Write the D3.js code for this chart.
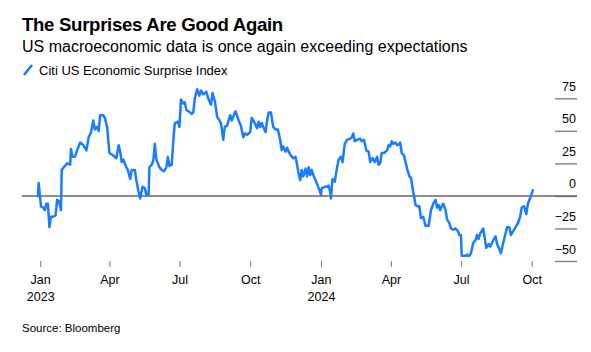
<!DOCTYPE html>
<html><head><meta charset="utf-8">
<script src="https://cdn.jsdelivr.net/npm/d3@7"></script>
<style>
html,body{margin:0;padding:0;background:#fff;}
svg{display:block;font-family:"Liberation Sans",Arial,sans-serif;}
</style></head>
<body><svg id="c" width="591" height="352"></svg>
<script>
const title = "The Surprises Are Good Again";
const subtitle = "US macroeconomic data is once again exceeding expectations";
const seriesName = "Citi US Economic Surprise Index";
const source = "Source: Bloomberg";
const yTicks = [75, 50, 25, 0, -25, -50];
const xTicks = ["2023-01-01","2023-04-01","2023-07-01","2023-10-01","2024-01-01","2024-04-01","2024-07-01","2024-10-01"];
const xTickLabels = ["Jan","Apr","Jul","Oct","Jan","Apr","Jul","Oct"];
const xTickYears = ["2023","","","","2024","","",""];
const dates = [
"2022-12-29","2022-12-30","2023-01-02","2023-01-05","2023-01-07","2023-01-09","2023-01-11","2023-01-13","2023-01-15","2023-01-18",
"2023-01-21","2023-01-23","2023-01-25","2023-01-27","2023-01-28","2023-01-29","2023-02-02","2023-02-05","2023-02-09","2023-02-10",
"2023-02-12","2023-02-15","2023-02-18","2023-02-22","2023-02-26","2023-03-02","2023-03-05","2023-03-08","2023-03-11","2023-03-13",
"2023-03-16","2023-03-18","2023-03-20","2023-03-24","2023-03-26","2023-03-29","2023-04-01","2023-04-06","2023-04-10","2023-04-13",
"2023-04-15","2023-04-17","2023-04-19","2023-04-23","2023-04-25","2023-04-28","2023-04-30","2023-05-04","2023-05-06","2023-05-09",
"2023-05-11","2023-05-14","2023-05-17","2023-05-19","2023-05-22","2023-05-23","2023-05-26","2023-05-28","2023-05-30","2023-06-01",
"2023-06-05","2023-06-08","2023-06-11","2023-06-14","2023-06-16","2023-06-18","2023-06-21","2023-06-23","2023-06-25","2023-06-29",
"2023-07-01","2023-07-03","2023-07-06","2023-07-08","2023-07-10","2023-07-13","2023-07-17","2023-07-19","2023-07-21","2023-07-24",
"2023-07-27","2023-07-29","2023-08-01","2023-08-05","2023-08-08","2023-08-11","2023-08-13","2023-08-16","2023-08-19","2023-08-22",
"2023-08-24","2023-08-27","2023-08-29","2023-09-01","2023-09-05","2023-09-07","2023-09-09","2023-09-12","2023-09-16","2023-09-19",
"2023-09-22","2023-09-24","2023-09-27","2023-10-01","2023-10-03","2023-10-05","2023-10-07","2023-10-10","2023-10-12","2023-10-14",
"2023-10-16","2023-10-18","2023-10-21","2023-10-23","2023-10-25","2023-10-28","2023-10-31","2023-11-03","2023-11-06","2023-11-09",
"2023-11-11","2023-11-13","2023-11-16","2023-11-18","2023-11-20","2023-11-23","2023-11-26","2023-11-29","2023-12-01","2023-12-03",
"2023-12-05","2023-12-07","2023-12-09","2023-12-12","2023-12-14","2023-12-16","2023-12-18","2023-12-20","2023-12-22","2023-12-25",
"2023-12-29","2024-01-01","2024-01-02","2024-01-06","2024-01-09","2024-01-11","2024-01-13","2024-01-14","2024-01-16","2024-01-19",
"2024-01-22","2024-01-24","2024-01-27","2024-01-29","2024-02-01","2024-02-04","2024-02-08","2024-02-10","2024-02-12","2024-02-14",
"2024-02-17","2024-02-21","2024-02-23","2024-02-26","2024-02-29","2024-03-03","2024-03-05","2024-03-08","2024-03-11","2024-03-14",
"2024-03-16","2024-03-18","2024-03-20","2024-03-23","2024-03-27","2024-03-29","2024-03-31","2024-04-02","2024-04-04","2024-04-07",
"2024-04-09","2024-04-12","2024-04-13","2024-04-15","2024-04-18","2024-04-22","2024-04-25","2024-04-27","2024-04-30","2024-05-03",
"2024-05-06","2024-05-08","2024-05-10","2024-05-13","2024-05-16","2024-05-20","2024-05-23","2024-05-26","2024-05-29","2024-05-31",
"2024-06-02","2024-06-04","2024-06-06","2024-06-08","2024-06-11","2024-06-13","2024-06-16","2024-06-18","2024-06-21","2024-06-24",
"2024-06-27","2024-06-29","2024-07-01","2024-07-02","2024-07-07","2024-07-09","2024-07-10","2024-07-12","2024-07-14","2024-07-17",
"2024-07-20","2024-07-22","2024-07-24","2024-07-26","2024-07-30","2024-08-03","2024-08-06","2024-08-08","2024-08-12","2024-08-15",
"2024-08-17","2024-08-20","2024-08-22","2024-08-25","2024-08-28","2024-08-30","2024-09-02","2024-09-04","2024-09-07","2024-09-11",
"2024-09-13","2024-09-16","2024-09-18","2024-09-21","2024-09-24","2024-09-26","2024-09-28","2024-09-30","2024-10-03"
];
const values = [
-1,10,-8,-9,-11,-6,-6,-24,-16,-16,
-15,-3,-4,-8,-11,20,23,25,24,36,
30,30,35,41,39,35,45,49,58,51,
53,50,62,62,60,53,33,31,29,39,
34,26,28,22,20,13,20,20,12,3,
-2,7,6,1,1,22,24,27,40,28,
22,20,19,22,30,23,24,42,56,57,
53,74,71,72,66,65,63,64,75,82,
77,81,78,80,74,70,79,73,61,58,
56,43,53,54,62,58,61,65,58,54,
45,48,47,49,60,58,56,52,57,53,
56,53,49,58,64,64,53,51,51,43,
35,38,34,37,34,31,29,30,24,17,
12,20,15,21,15,22,16,20,16,12,
6,1,6,7,7,8,3,-2,13,11,
22,28,30,26,40,43,44,45,48,42,
43,44,42,43,35,34,26,29,26,30,
24,25,33,33,35,39,38,42,40,41,
39,40,41,33,31,21,15,14,3,-7,
-8,-8,-17,-16,-23,-23,-11,-6,-3,-9,
-7,-11,-8,-6,-11,-18,-21,-25,-26,-25,
-27,-30,-30,-46,-46,-45,-46,-46,-44,-36,
-34,-30,-33,-29,-25,-40,-37,-39,-34,-31,
-37,-41,-44,-36,-29,-24,-24,-30,-27,-23,
-21,-16,-9,-8,-14,-6,-3,0,5
];

const parse = d3.timeParse("%Y-%m-%d");
const data = dates.map((d,i)=>({date:parse(d), value:values[i]}));
const svg = d3.select("#c");

const x = d3.scaleTime().domain([parse("2023-01-01"), parse("2024-10-01")]).range([40.2, 531.7]);
const y = d3.scaleLinear().domain([-50, 75]).range([261, 98.3]);

// Title block
svg.append("text").attr("x",22).attr("y",31).attr("font-size",18.6).attr("font-weight","bold")
  .attr("letter-spacing","-0.3").attr("fill","#000").text(title);
svg.append("text").attr("x",22).attr("y",52).attr("font-size",16).attr("fill","#000").text(subtitle);
svg.append("line").attr("x1",24).attr("y1",75).attr("x2",32).attr("y2",65).attr("stroke","#1a7dff").attr("stroke-width",2.5);
svg.append("text").attr("x",39).attr("y",75).attr("font-size",13).attr("fill","#000").text(seriesName);

// Y axis (right) with short tick lines
const yAxis = d3.axisRight(y).tickValues(yTicks).tickSize(0).tickFormat(d3.format("d"));
const yg = svg.append("g").attr("transform","translate(577,0)").call(yAxis);
yg.select(".domain").remove();
yg.selectAll(".tick text").attr("x",-1).attr("dy","-8").attr("text-anchor","end")
  .attr("font-size",12.5).attr("font-family","Liberation Sans, Arial, sans-serif").attr("fill","#000");
yg.selectAll(".tick").append("line").attr("x1",-22).attr("x2",0).attr("stroke","#8a8a8a").attr("stroke-width",1.5);

// Zero line
svg.append("line").attr("x1",22).attr("x2",577).attr("y1",y(0)).attr("y2",y(0)).attr("stroke","#666").attr("stroke-width",1.5);

// X axis
const xAxis = d3.axisBottom(x).tickValues(xTicks.map(parse)).tickSize(6).tickFormat((d,i)=>xTickLabels[i]);
const xg = svg.append("g").attr("transform","translate(0,261)").call(xAxis);
xg.select(".domain").remove();
xg.selectAll(".tick line").attr("stroke","#777").attr("stroke-width",1);
xg.selectAll(".tick text").attr("y",23).attr("dy",0).attr("font-size",12.5)
  .attr("font-family","Liberation Sans, Arial, sans-serif").attr("fill","#000");
xg.selectAll(".tick").append("text").attr("y",40).attr("text-anchor","middle").attr("font-size",12.5)
  .attr("font-family","Liberation Sans, Arial, sans-serif").attr("fill","#000").text((d,i)=>xTickYears[i]);

// Line
const line = d3.line().x(d=>x(d.date)).y(d=>y(d.value));
svg.append("path").datum(data).attr("d",line).attr("fill","none").attr("stroke","#1a7dff")
  .attr("stroke-width",2.5).attr("stroke-linejoin","round");

// Source
svg.append("text").attr("x",22).attr("y",332).attr("font-size",11.5).attr("fill","#000").text(source);
</script></body></html>
